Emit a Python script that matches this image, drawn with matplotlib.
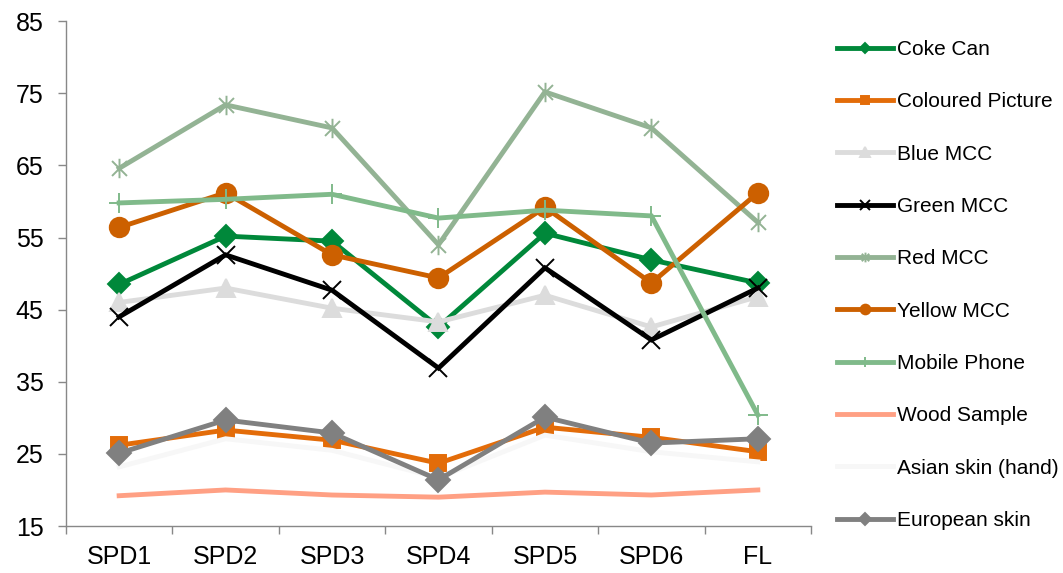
import numpy as np
import matplotlib
matplotlib.use('Agg')
import matplotlib.pyplot as plt
from matplotlib.path import Path

plt.rcParams['font.family'] = ['Liberation Sans', 'DejaVu Sans']

categories = ['SPD1', 'SPD2', 'SPD3', 'SPD4', 'SPD5', 'SPD6', 'FL']

coke_can = [48.5, 55.2, 54.5, 42.6, 55.6, 51.9, 48.7]
coloured_picture = [26.2, 28.3, 26.9, 23.7, 28.7, 27.3, 25.3]
blue_mcc = [46.0, 48.0, 45.2, 43.3, 47.0, 42.6, 46.8]
green_mcc = [44.0, 52.6, 47.7, 36.9, 50.8, 40.8, 48.0]
red_mcc = [64.6, 73.4, 70.2, 54.0, 75.2, 70.2, 57.1]
yellow_mcc = [56.4, 61.2, 52.6, 49.4, 59.2, 48.7, 61.2]
mobile_phone = [59.8, 60.3, 61.0, 57.7, 58.8, 58.0, 30.4]
wood_sample = [19.2, 20.0, 19.3, 19.0, 19.7, 19.3, 20.0]
asian_skin = [23.2, 27.1, 25.5, 21.7, 27.6, 25.3, 23.9]
european_skin = [25.1, 29.7, 27.9, 21.4, 30.1, 26.5, 27.1]

# asterisk marker like the spreadsheet "star"
star = Path([(-1, -1), (1, 1), (-1, 1), (1, -1), (0, -1.3), (0, 1.3)],
            [Path.MOVETO, Path.LINETO, Path.MOVETO, Path.LINETO, Path.MOVETO, Path.LINETO])

series = [
    ('Coke Can', coke_can, '#00883a', 'D', 11),
    ('Coloured Picture', coloured_picture, '#e36c09', 's', 12),
    ('Blue MCC', blue_mcc, '#dcdcdc', '^', 13),
    ('Green MCC', green_mcc, '#000000', 'x', 13),
    ('Red MCC', red_mcc, '#93b394', star, 14),
    ('Yellow MCC', yellow_mcc, '#cc6000', 'o', 14),
    ('Mobile Phone', mobile_phone, '#80ba8a', '+', 15),
    ('Wood Sample', wood_sample, '#ffa084', None, 0),
    ('Asian skin (hand)', asian_skin, '#f7f7f7', None, 0),
    ('European skin', european_skin, '#808080', 'D', 12),
]

fig = plt.figure(figsize=(10.63, 5.73), dpi=100)
ax = fig.add_axes([0.062, 0.082, 0.701, 0.881])

x = np.arange(len(categories))
for name, vals, col, mk, ms in series:
    ax.plot(x, vals, color=col, lw=3.5, marker=mk, markersize=ms,
            markeredgecolor=col, markerfacecolor=col, markeredgewidth=1.4,
            label=name, solid_joinstyle='miter')

ax.set_xlim(-0.5, len(categories) - 0.5)
ax.set_ylim(15, 85)
ax.set_yticks(np.arange(15, 86, 10))
ax.set_xticks(x)
ax.set_xticklabels(categories)
ax.set_xticks(np.arange(-0.5, len(categories)), minor=True)
ax.tick_params(axis='x', which='major', length=0, pad=14, labelsize=18)
ax.tick_params(axis='x', which='minor', length=6, color='#888888', width=1)
ax.tick_params(axis='y', length=6, color='#888888', width=1, pad=10, labelsize=18)

for s in ['top', 'right']:
    ax.spines[s].set_visible(False)
for s in ['left', 'bottom']:
    ax.spines[s].set_color('#888888')
    ax.spines[s].set_linewidth(1)

leg = fig.legend(loc='upper left', bbox_to_anchor=(0.7796, 0.945), frameon=False,
                 fontsize=15, handlelength=2.7, handletextpad=0.2,
                 labelspacing=1.6, markerscale=0.5, borderaxespad=0)

fig.savefig('out.png', dpi=100)
